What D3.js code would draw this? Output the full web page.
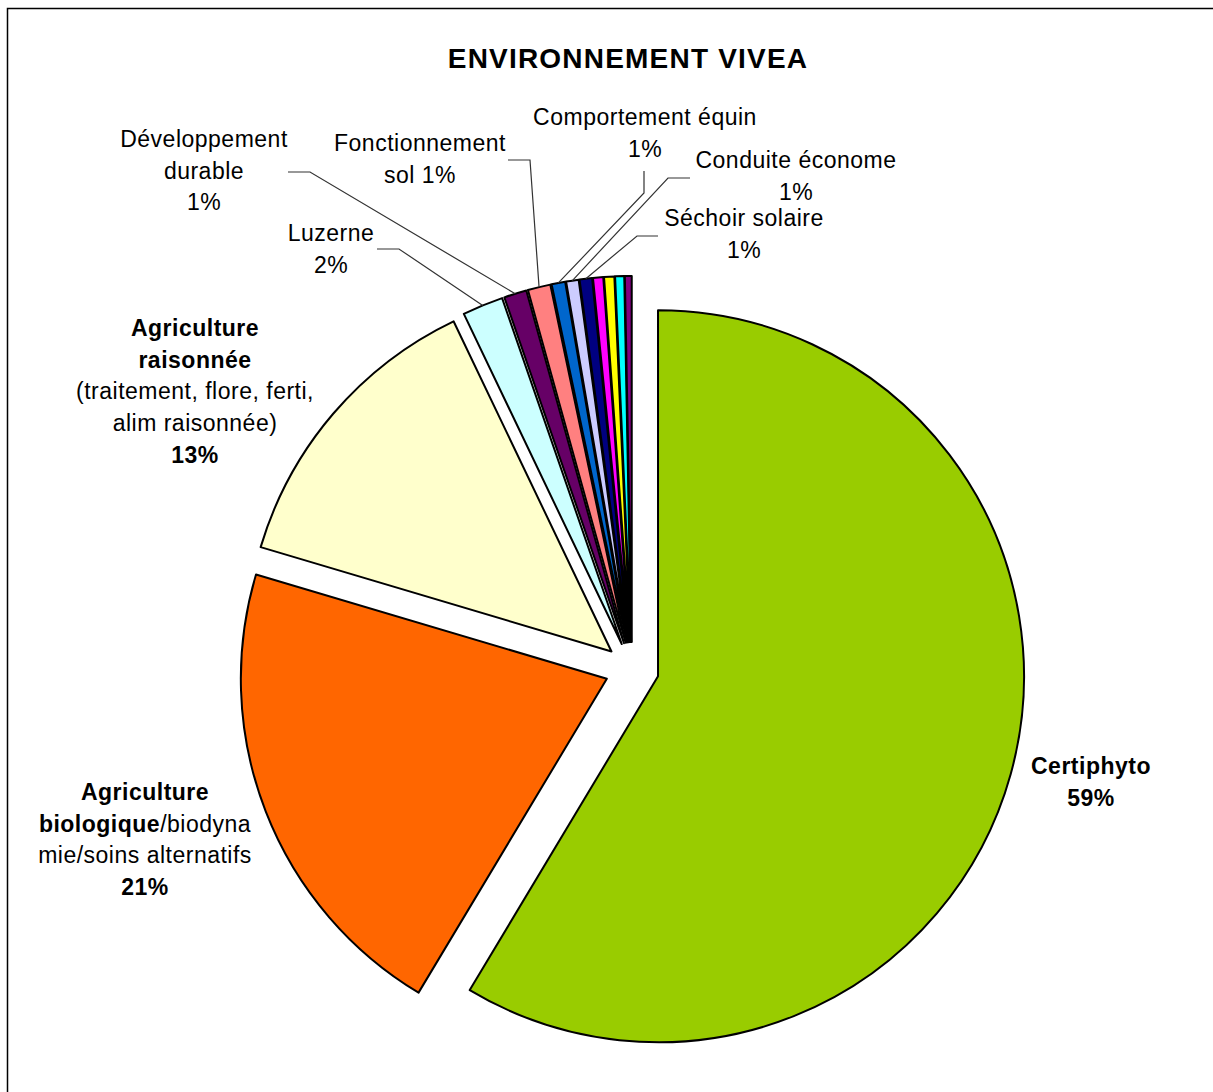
<!DOCTYPE html>
<html>
<head>
<meta charset="utf-8">
<script src="https://cdn.jsdelivr.net/npm/d3@7"></script>
<style>
  body { margin: 0; background: #fff; }
  text { font-family: "Liberation Sans", Arial, sans-serif; fill: #000; }
</style>
</head>
<body>
<div id="chart-area"></div>
<script>
//============================DATA============================
var categories = [
    "Certiphyto",
    "Agriculture biologique/biodynamie/soins alternatifs",
    "Agriculture raisonnée (traitement, flore, ferti, alim raisonnée)",
    "Luzerne",
    "Développement durable",
    "Fonctionnement sol",
    "Comportement équin",
    "Conduite économe",
    "Séchoir solaire",
    "Autre 1", "Autre 2", "Autre 3", "Autre 4"
];
var values = [58.6, 21.0, 13.3, 1.8, 1.0, 1.0, 0.6, 0.55, 0.55, 0.45, 0.45, 0.4, 0.3];
var colors = ["#99CC00", "#FF6600", "#FFFFCC", "#CCFFFF", "#660066", "#FF8080",
              "#0066CC", "#CCCCFF", "#000080", "#FF00FF", "#FFFF00", "#00FFFF", "#800080"];

// label lines per slice: each line is a list of [text, bold]; "%P" is replaced by the percentage
var labelLines = {
    0: [[["Certiphyto", true]], [["%P", true]]],
    1: [[["Agriculture", true]], [["biologique", true], ["/biodyna", false]], [["mie/soins alternatifs", false]], [["%P", true]]],
    2: [[["Agriculture", true]], [["raisonnée", true]], [["(traitement, flore, ferti,", false]], [["alim raisonnée)", false]], [["%P", true]]],
    3: [[["Luzerne", false]], [["%P", false]]],
    4: [[["Développement", false]], [["durable", false]], [["%P", false]]],
    5: [[["Fonctionnement", false]], [["sol %P", false]]],
    6: [[["Comportement équin", false]], [["%P", false]]],
    7: [[["Conduite économe", false]], [["%P", false]]],
    8: [[["Séchoir solaire", false]], [["%P", false]]]
};

//============================LAYOUT============================
var W = 1213, H = 1092;
var cx = 632, cy = 669, radius = 366, explode = 27;
var lineStep = 31.7;

// label anchor (centre x, first baseline y) and leader start points
var labelPos = {
    0: { x: 1091, y: 774 },
    1: { x: 145, y: 800 },
    2: { x: 195, y: 336 },
    3: { x: 331, y: 241, leader: [[377, 249], [399, 249]] },
    4: { x: 204, y: 147, leader: [[288, 172], [310, 172]] },
    5: { x: 420, y: 151, leader: [[508, 160], [530, 160]] },
    6: { x: 645, y: 125, leader: [[644, 171], [644, 193]] },
    7: { x: 796, y: 168, leader: [[690, 178], [668, 178]] },
    8: { x: 744, y: 226, leader: [[658, 236], [637, 236]] }
};

var svg = d3.select("#chart-area")
    .append("svg")
    .attr("width", W)
    .attr("height", H);

// chart area border (cropped on the right and bottom)
svg.append("rect")
    .attr("x", 7.5).attr("y", 8.5)
    .attr("width", 1300).attr("height", 1200)
    .attr("fill", "#fff")
    .attr("stroke", "#000")
    .attr("stroke-width", 1.5);

svg.append("text")
    .attr("x", 628).attr("y", 68)
    .attr("text-anchor", "middle")
    .attr("font-size", "28px")
    .attr("letter-spacing", "1.2px")
    .attr("font-weight", "bold")
    .text("ENVIRONNEMENT VIVEA");

var total = d3.sum(values);
var data = values.map(function(v, i){
    return { name: categories[i], value: v, color: colors[i], idx: i };
});

var pie = d3.pie()
    .sort(null)
    .value(function(d){ return d.value; });

var arc = d3.arc()
    .innerRadius(0)
    .outerRadius(radius);

var arcs = pie(data);

function offset(a){
    var mid = (a.startAngle + a.endAngle) / 2;
    return [explode * Math.sin(mid), -explode * Math.cos(mid)];
}

var g = svg.append("g")
    .attr("transform", "translate(" + cx + "," + cy + ")");

g.selectAll("path.slice")
    .data(arcs)
    .enter()
    .append("path")
    .attr("class", "slice")
    .attr("transform", function(d){ var o = offset(d); return "translate(" + o[0] + "," + o[1] + ")"; })
    .attr("d", arc)
    .attr("fill", function(d){ return d.data.color; })
    .attr("stroke", "#000")
    .attr("stroke-width", 2)
    .attr("stroke-linejoin", "round");

//=====================Labels=====================
var labels = svg.append("g");

arcs.forEach(function(a){
    var i = a.data.idx;
    if (!labelLines[i]) return;
    var pos = labelPos[i];
    var pct = Math.round(a.data.value / total * 100) + "%";

    // leader line: fixed elbow, then to the slice edge
    if (pos.leader) {
        var mid = (a.startAngle + a.endAngle) / 2;
        var o = offset(a);
        var end = [cx + o[0] + radius * Math.sin(mid), cy + o[1] - radius * Math.cos(mid)];
        labels.append("path")
            .attr("d", d3.line()(pos.leader.concat([end])))
            .attr("fill", "none")
            .attr("stroke", "#333")
            .attr("stroke-width", 1.2);
    }

    var t = labels.append("text")
        .attr("x", pos.x)
        .attr("y", pos.y)
        .attr("text-anchor", "middle")
        .attr("font-size", "23px")
        .attr("letter-spacing", "0.5px");

    labelLines[i].forEach(function(line, li){
        line.forEach(function(seg, si){
            var ts = t.append("tspan")
                .attr("font-weight", seg[1] ? "bold" : "normal")
                .text(seg[0].replace("%P", pct));
            if (si === 0) ts.attr("x", pos.x).attr("y", pos.y + li * lineStep);
        });
    });
});
</script>
</body>
</html>
